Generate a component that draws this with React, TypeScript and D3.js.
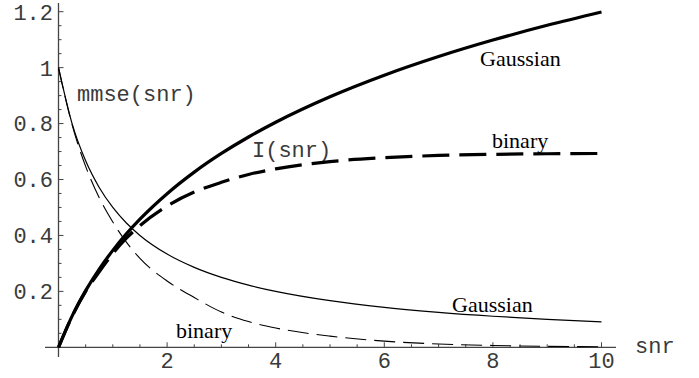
import * as React from "react";
import * as d3 from "d3";

// snr grid and the four curves
const snr = [0, 0.25, 0.5, 0.75, 1, 1.25, 1.5, 2, 2.5, 3, 3.5, 4, 5, 6, 7, 8, 9, 10];
const infoGaussian = [0, 0.1116, 0.2027, 0.2798, 0.3466, 0.4055, 0.4581, 0.5493, 0.6264, 0.6931, 0.752, 0.8047, 0.8959, 0.973, 1.0397, 1.0986, 1.1513, 1.1989];
const infoBinary = [0, 0.11, 0.2, 0.27, 0.335, 0.39, 0.435, 0.505, 0.555, 0.59, 0.618, 0.638, 0.664, 0.678, 0.686, 0.69, 0.692, 0.693];
const mmseGaussian = [1, 0.8, 0.6667, 0.5714, 0.5, 0.4444, 0.4, 0.3333, 0.2857, 0.25, 0.2222, 0.2, 0.1667, 0.1429, 0.125, 0.1111, 0.1, 0.0909];
const mmseBinary = [1, 0.796, 0.647, 0.535, 0.448, 0.376, 0.318, 0.237, 0.178, 0.126, 0.092, 0.069, 0.04, 0.022, 0.012, 0.0065, 0.0035, 0.002];

const xMajor = [2, 4, 6, 8, 10];
const yMajor = [0.2, 0.4, 0.6, 0.8, 1, 1.2];
const yLabels = ["0.2", "0.4", "0.6", "0.8", "1", "1.2"];

const W = 699;
const H = 378;
const mono = "'Liberation Mono', 'Courier New', monospace";
const serif = "'Liberation Serif', 'Times New Roman', serif";

export default function App() {
  const x = d3.scaleLinear().domain([0, 10]).range([58.5, 601.5]);
  const y = d3.scaleLinear().domain([0, 1.2]).range([347.3, 11.7]);

  const line = (vals: number[]) =>
    d3
      .line<number>()
      .x((_, i) => x(snr[i]))
      .y((d) => y(d))
      .curve(d3.curveMonotoneX)(vals) as string;

  const xMinor = d3.range(0.5, 10.01, 0.5).filter((v) => Math.abs(v / 2 - Math.round(v / 2)) > 1e-6);
  const yMinor = d3.range(0.05, 1.2, 0.05).filter((v) => Math.abs(v / 0.2 - Math.round(v / 0.2)) > 1e-6);
  const x0 = x(0);
  const y0 = y(0);

  return (
    <svg width={W} height={H} style={{ position: "absolute", left: 0, top: 0, background: "#fff" }}>
      {/* axes */}
      <g stroke="#444" strokeWidth={1.3}>
        <line x1={45} x2={616} y1={y0} y2={y0} />
        <line x1={x0} x2={x0} y1={3} y2={357} />
        {xMinor.map((v) => (
          <line key={"xm" + v} x1={x(v)} x2={x(v)} y1={y0} y2={y0 - 3} strokeWidth={1} />
        ))}
        {xMajor.map((v) => (
          <line key={"xM" + v} x1={x(v)} x2={x(v)} y1={y0} y2={y0 - 5} strokeWidth={1} />
        ))}
        {yMinor.map((v) => (
          <line key={"ym" + v} x1={x0} x2={x0 + 3} y1={y(v)} y2={y(v)} strokeWidth={1} />
        ))}
        {yMajor.map((v) => (
          <line key={"yM" + v} x1={x0} x2={x0 + 5} y1={y(v)} y2={y(v)} strokeWidth={1} />
        ))}
      </g>
      <g fontFamily={mono} fontSize={22} fill="#3a3a3a">
        {xMajor.map((v) => (
          <text key={"xl" + v} x={x(v)} y={368} textAnchor="middle">
            {v}
          </text>
        ))}
        {yMajor.map((v, i) => (
          <text key={"yl" + v} x={53} y={y(v)} dy="0.36em" textAnchor="end">
            {yLabels[i]}
          </text>
        ))}
        <text x={635} y={353}>snr</text>
        <text x={77} y={101}>mmse(snr)</text>
        <text x={252} y={157}>I(snr)</text>
      </g>

      {/* curves */}
      <g fill="none" stroke="#000" strokeLinejoin="round">
        <path d={line(mmseGaussian)} strokeWidth={1.2} />
        <path d={line(mmseBinary)} strokeWidth={1.1} strokeDasharray="21,8" />
        <path d={line(infoGaussian)} strokeWidth={3.2} />
        <path d={line(infoBinary)} strokeWidth={3.2} strokeDasharray="27,10" />
      </g>

      <g fontFamily={serif} fontSize={22} fill="#000">
        <text x={480} y={66}>Gaussian</text>
        <text x={492} y={148}>binary</text>
        <text x={452} y={312}>Gaussian</text>
        <text x={176} y={338}>binary</text>
      </g>
    </svg>
  );
}
